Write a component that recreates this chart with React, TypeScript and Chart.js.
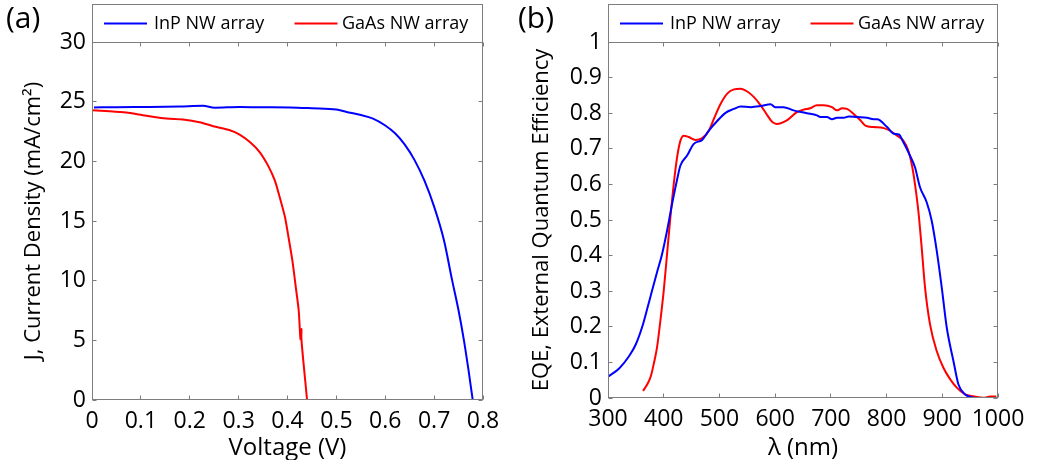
import React, { useEffect, useRef } from "react";
import { Chart, registerables } from "chart.js";
Chart.register(...registerables);

const FONT = "'Open Sans', sans-serif";
const GRAY = "#7d7d7d";

// ---------- Panel (a): J–V curves ----------
const IV_X_TICKS = [0, 0.1, 0.2, 0.3, 0.4, 0.5, 0.6, 0.7, 0.8];
const IV_Y_TICKS = [0, 5, 10, 15, 20, 25, 30];
const INP_IV_V = [0.004, 0.05, 0.101, 0.15, 0.18, 0.227, 0.251, 0.302, 0.35, 0.405, 0.45, 0.5, 0.521, 0.548, 0.575, 0.6, 0.62, 0.64, 0.66, 0.68, 0.7, 0.72, 0.737, 0.75, 0.761, 0.77, 0.779];
const INP_IV_J = [24.52, 24.53, 24.55, 24.57, 24.6, 24.66, 24.5, 24.55, 24.53, 24.52, 24.45, 24.34, 24.14, 23.9, 23.58, 23.0, 22.35, 21.4, 20.1, 18.4, 16.2, 13.4, 10.0, 7.5, 5.0, 2.6, 0];
const GAAS_IV_V = [0, 0.036, 0.07, 0.104, 0.152, 0.186, 0.22, 0.248, 0.282, 0.302, 0.323, 0.343, 0.36, 0.374, 0.384, 0.395, 0.401, 0.41, 0.417, 0.423, 0.4265, 0.4285, 0.4285, 0.433, 0.437, 0.44];
const GAAS_IV_J = [24.28, 24.2, 24.09, 23.87, 23.58, 23.5, 23.28, 22.94, 22.6, 22.24, 21.62, 20.78, 19.66, 18.4, 17.0, 15.3, 13.9, 11.68, 9.44, 7.48, 5.1, 5.95, 5.1, 3.0, 1.3, 0];

// ---------- Panel (b): EQE spectra ----------
const EQE_X_TICKS = [300, 400, 500, 600, 700, 800, 900, 1000];
const EQE_Y_TICKS = [0, 0.1, 0.2, 0.3, 0.4, 0.5, 0.6, 0.7, 0.8, 0.9, 1];
const INP_EQE_WL = [300, 320, 338, 350, 362, 371, 379, 388, 397, 406, 415, 423, 430, 442, 454, 469, 481, 496, 511, 526, 538, 556, 574, 592, 600, 615, 633, 657, 675, 681, 693, 702, 711, 723, 732, 747, 765, 777, 783, 801, 813, 822, 830, 842, 851, 860, 872, 881, 890, 899, 908, 920, 929, 941, 959];
const INP_EQE = [0.06, 0.083, 0.118, 0.151, 0.203, 0.254, 0.301, 0.353, 0.404, 0.47, 0.545, 0.606, 0.653, 0.681, 0.714, 0.725, 0.751, 0.778, 0.801, 0.812, 0.819, 0.817, 0.82, 0.825, 0.817, 0.817, 0.808, 0.8, 0.794, 0.789, 0.789, 0.783, 0.787, 0.787, 0.791, 0.789, 0.787, 0.783, 0.783, 0.761, 0.742, 0.74, 0.719, 0.681, 0.648, 0.592, 0.55, 0.498, 0.414, 0.311, 0.198, 0.104, 0.038, 0.01, 0.0];
const GAAS_EQE_WL = [363, 371, 377, 382, 388, 394, 400, 406, 412, 418, 424, 430, 436, 445, 457, 469, 481, 490, 502, 514, 526, 538, 550, 562, 574, 586, 595, 603, 621, 639, 651, 663, 675, 687, 702, 711, 720, 729, 741, 753, 762, 777, 795, 807, 819, 830, 839, 845, 851, 857, 863, 869, 878, 890, 902, 914, 926, 941, 956, 974, 986, 997];
const GAAS_EQE = [0.02, 0.04, 0.062, 0.095, 0.142, 0.217, 0.301, 0.404, 0.508, 0.601, 0.676, 0.723, 0.737, 0.733, 0.725, 0.73, 0.751, 0.784, 0.826, 0.855, 0.867, 0.869, 0.861, 0.845, 0.822, 0.794, 0.775, 0.77, 0.78, 0.803, 0.81, 0.814, 0.822, 0.822, 0.817, 0.808, 0.814, 0.812, 0.798, 0.78, 0.765, 0.761, 0.758, 0.75, 0.737, 0.723, 0.695, 0.658, 0.601, 0.526, 0.423, 0.311, 0.207, 0.132, 0.085, 0.053, 0.029, 0.01, 0.005, 0.001, 0.004, 0.004];

const SERIES_NAMES = ["InP NW array", "GaAs NW array"];
const SERIES_COLORS = ["#0000ff", "#ff0000"];

const toPoints = (xs: number[], ys: number[]) => xs.map((x, i) => ({ x, y: ys[i] }));

function framePlugin(xTicks: number[], yTicks: number[]) {
  return {
    id: "matlabFrame",
    afterDraw(chart: any) {
      const { ctx, chartArea, scales } = chart;
      const L = Math.floor(chartArea.left) + 0.5;
      const R = Math.ceil(chartArea.right) - 0.5;
      const T = Math.floor(chartArea.top) + 0.5;
      const B = Math.ceil(chartArea.bottom) - 0.5;
      const TL = 4;
      ctx.save();
      ctx.strokeStyle = GRAY;
      ctx.lineWidth = 1;
      ctx.beginPath();
      xTicks.forEach((v) => {
        const x = Math.floor(scales.x.getPixelForValue(v)) + 0.5;
        ctx.moveTo(x, B); ctx.lineTo(x, B - TL);
        ctx.moveTo(x, T); ctx.lineTo(x, T + TL);
      });
      yTicks.forEach((v) => {
        const y = Math.floor(scales.y.getPixelForValue(v)) + 0.5;
        ctx.moveTo(L, y); ctx.lineTo(L + TL, y);
        ctx.moveTo(R, y); ctx.lineTo(R - TL, y);
      });
      ctx.stroke();
      ctx.strokeRect(L, T, R - L, B - T);
      // legend box above the axes
      const LT = 4.5;
      ctx.fillStyle = "#ffffff";
      ctx.fillRect(L, LT, R - L, T - LT);
      ctx.strokeRect(L, LT, R - L, T - LT);
      const cy = (LT + T) / 2;
      const offs = [[11.5, 61.5], [202, 249.5]];
      chart.data.datasets.forEach((ds: any, i: number) => {
        const [lx, tx] = offs[i];
        ctx.strokeStyle = ds.borderColor;
        ctx.lineWidth = 2;
        ctx.beginPath();
        ctx.moveTo(L + lx, cy); ctx.lineTo(L + lx + 43, cy);
        ctx.stroke();
        ctx.fillStyle = "#000";
        ctx.font = `18px ${FONT}`;
        ctx.textBaseline = "middle";
        ctx.textAlign = "left";
        ctx.fillText(ds.label, L + tx, cy);
      });
      ctx.restore();
    },
  };
}

function buildConfig(p: any) {
  return {
    type: "line",
    data: {
      datasets: p.series.map((s: any, i: number) => ({
        label: SERIES_NAMES[i],
        data: toPoints(s[0], s[1]),
        borderColor: SERIES_COLORS[i],
        backgroundColor: SERIES_COLORS[i],
        borderWidth: 2,
        pointRadius: 0,
        tension: s[2] === "monotone" ? 0 : s[2],
        cubicInterpolationMode: s[2] === "monotone" ? "monotone" : "default",
        fill: false,
      })),
    },
    options: {
      responsive: false,
      animation: false,
      events: [],
      layout: { padding: { left: 0, right: p.padRight, top: 42, bottom: 0 } },
      plugins: { legend: { display: false }, tooltip: { enabled: false } },
      scales: {
        x: {
          type: "linear",
          min: p.xMin,
          max: p.xMax,
          afterBuildTicks: (s: any) => { s.ticks = p.xTicks.map((v: number) => ({ value: v })); },
          afterFit: (s: any) => { s.height = p.xAxisH; },
          ticks: { autoSkip: false, maxRotation: 0, padding: 8, color: "#000", font: { family: FONT, size: 23 }, callback: (v: number) => String(v) },
          grid: { display: false, drawTicks: false },
          border: { display: false },
          title: { display: true, text: p.xTitle, color: "#000", font: { family: FONT, size: 24, lineHeight: 1.0 }, padding: { top: 0, bottom: 0 } },
        },
        y: {
          type: "linear",
          min: p.yMin,
          max: p.yMax,
          afterBuildTicks: (s: any) => { s.ticks = p.yTicks.map((v: number) => ({ value: v })); },
          afterFit: (s: any) => { s.width = p.yAxisW; },
          ticks: { autoSkip: false, padding: 6, color: "#000", font: { family: FONT, size: 23 }, callback: (v: number) => String(v) },
          grid: { display: false, drawTicks: false },
          border: { display: false },
          title: { display: true, text: p.yTitle, color: "#000", font: { family: FONT, size: 22 }, padding: { top: p.yTitlePad, bottom: 0 } },
        },
      },
    },
    plugins: [framePlugin(p.xTicks, p.yTicks)],
  };
}

export default function App() {
  const refA = useRef<HTMLCanvasElement>(null);
  const refB = useRef<HTMLCanvasElement>(null);
  useEffect(() => {
    const a = new Chart(refA.current as any, buildConfig({
      series: [[INP_IV_V, INP_IV_J, "monotone"], [GAAS_IV_V, GAAS_IV_J, 0.25]],
      xMin: 0, xMax: 0.8, yMin: 0, yMax: 30,
      xTicks: IV_X_TICKS, yTicks: IV_Y_TICKS,
      xTitle: "Voltage (V)", yTitle: "J, Current Density (mA/cm²)",
      padRight: 35, xAxisH: 60, yAxisW: 92, yTitlePad: 21,
    }) as any);
    const b = new Chart(refB.current as any, buildConfig({
      series: [[INP_EQE_WL, INP_EQE, "monotone"], [GAAS_EQE_WL, GAAS_EQE, "monotone"]],
      xMin: 300, xMax: 1000, yMin: 0, yMax: 1,
      xTicks: EQE_X_TICKS, yTicks: EQE_Y_TICKS,
      xTitle: "λ (nm)", yTitle: "EQE, External Quantum Efficiency",
      padRight: 39, xAxisH: 62, yAxisW: 90, yTitlePad: 11,
    }) as any);
    return () => { a.destroy(); b.destroy(); };
  }, []);
  const lbl: React.CSSProperties = { position: "absolute", top: 2, fontFamily: FONT, fontSize: 30, lineHeight: 1, color: "#000" };
  return (
    <div style={{ position: "fixed", left: 0, top: 0, width: 1037, height: 460, background: "#fff", overflow: "hidden" }}>
      <canvas ref={refA} width={518} height={460} style={{ position: "absolute", left: 0, top: 0 }} />
      <canvas ref={refB} width={519} height={460} style={{ position: "absolute", left: 518, top: 0 }} />
      <div style={{ ...lbl, left: 6 }}>(a)</div>
      <div style={{ ...lbl, left: 518 }}>(b)</div>
    </div>
  );
}
